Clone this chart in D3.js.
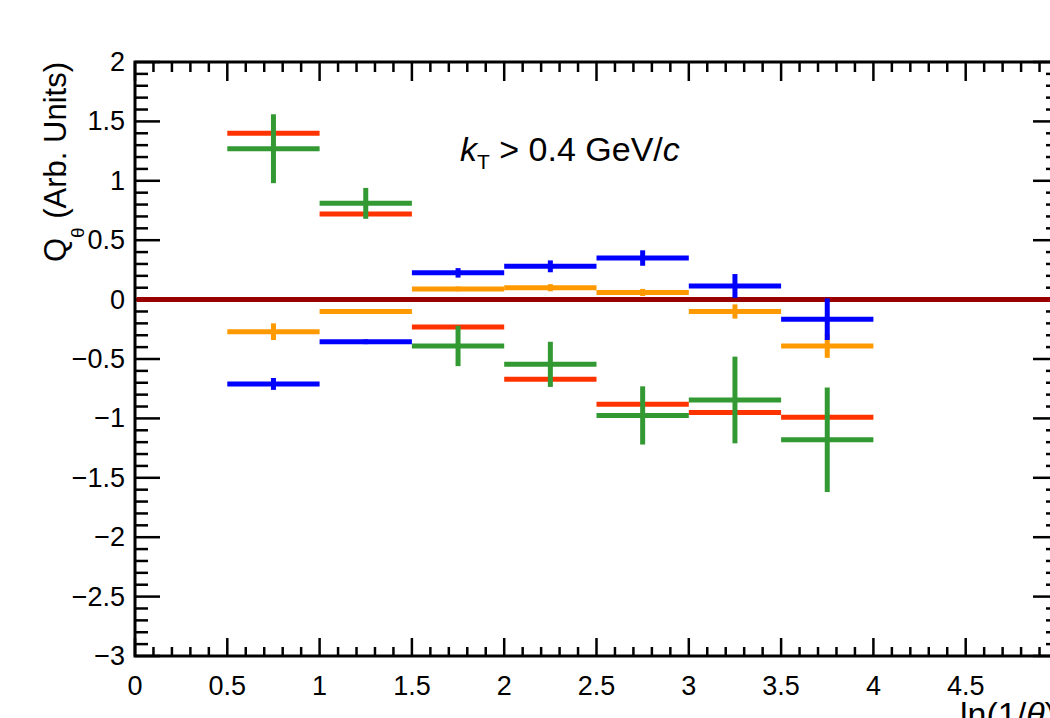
<!DOCTYPE html>
<html>
<head>
<meta charset="utf-8">
<script src="https://cdn.jsdelivr.net/npm/d3@7"></script>
<style>
  html, body { margin: 0; padding: 0; background: #fff; overflow: hidden; }
  text { font-family: "Liberation Sans", Arial, Helvetica, sans-serif; }
</style>
</head>
<body>
<svg id="chart" width="1050" height="718"></svg>
<script>
// ---- data ----
const binLow  = [0.5, 1.0, 1.5, 2.0, 2.5, 3.0, 3.5];
const binHigh = [1.0, 1.5, 2.0, 2.5, 3.0, 3.5, 4.0];

const redVals    = [1.40, 0.72, -0.23, -0.67, -0.88, -0.95, -0.99];
const redErrs    = [0.01, 0.01, 0.01, 0.01, 0.01, 0.01, 0.01];

const greenVals  = [1.27, 0.81, -0.39, -0.545, -0.975, -0.845, -1.18];
const greenErrs  = [0.29, 0.13, 0.17, 0.19, 0.245, 0.365, 0.44];

const orangeVals = [-0.27, -0.10, 0.09, 0.10, 0.06, -0.10, -0.39];
const orangeErrs = [0.07, 0.01, 0.02, 0.03, 0.03, 0.06, 0.10];

const blueVals   = [-0.71, -0.355, 0.225, 0.28, 0.35, 0.115, -0.165];
const blueErrs   = [0.05, 0.02, 0.04, 0.05, 0.065, 0.10, 0.175];

const xTickVals = [0, 0.5, 1, 1.5, 2, 2.5, 3, 3.5, 4, 4.5, 5];
const xTickLabels = ["0", "0.5", "1", "1.5", "2", "2.5", "3", "3.5", "4", "4.5", "5"];
const yTickVals = [2, 1.5, 1, 0.5, 0, -0.5, -1, -1.5, -2, -2.5, -3];
const yTickLabels = ["2", "1.5", "1", "0.5", "0", "\u22120.5", "\u22121", "\u22121.5", "\u22122", "\u22122.5", "\u22123"];

const series = [
  { name: "red",    color: "#ff3300", vals: redVals,    errs: redErrs },
  { name: "green",  color: "#339933", vals: greenVals,  errs: greenErrs },
  { name: "orange", color: "#ff9900", vals: orangeVals, errs: orangeErrs },
  { name: "blue",   color: "#0000ff", vals: blueVals,   errs: blueErrs }
];

// ---- layout ----
const svg = d3.select("#chart");
const L = 135, R = 1058, T = 62, B = 656;
const x = d3.scaleLinear().domain([0, 5]).range([L, R]);
const y = d3.scaleLinear().domain([-3, 2]).range([B, T]);

// ---- axes ----
const minorX = d3.range(0, 5.0001, 0.1).filter(v => Math.abs(v * 2 - Math.round(v * 2)) > 1e-6);
const minorY = d3.range(-3, 2.0001, 0.1).filter(v => Math.abs(v * 2 - Math.round(v * 2)) > 1e-6);

const axG = svg.append("g").attr("stroke", "#000");
axG.append("rect").attr("x", L).attr("y", T).attr("width", R - L).attr("height", B - T)
  .attr("fill", "none").attr("stroke-width", 3);

function tickLines(vals, len, side) {
  vals.forEach(v => {
    if (side === "bottom") axG.append("line").attr("x1", x(v)).attr("x2", x(v)).attr("y1", B).attr("y2", B - len).attr("stroke-width", 2.5);
    if (side === "top") axG.append("line").attr("x1", x(v)).attr("x2", x(v)).attr("y1", T).attr("y2", T + len).attr("stroke-width", 2.5);
    if (side === "left") axG.append("line").attr("x1", L).attr("x2", L + len).attr("y1", y(v)).attr("y2", y(v)).attr("stroke-width", 2.5);
    if (side === "right") axG.append("line").attr("x1", R).attr("x2", R - len).attr("y1", y(v)).attr("y2", y(v)).attr("stroke-width", 2.5);
  });
}
tickLines(xTickVals, 18, "bottom");
tickLines(minorX, 9, "bottom");
tickLines(xTickVals, 19, "top");
tickLines(minorX, 10, "top");
tickLines(yTickVals, 25, "left");
tickLines(minorY, 13, "left");
tickLines(yTickVals, 25, "right");
tickLines(minorY, 12, "right");

// zero line (drawn over the axes, under the data)
svg.append("line")
  .attr("x1", x(0) + 1.5).attr("x2", x(5))
  .attr("y1", y(0)).attr("y2", y(0))
  .attr("stroke", "#990000").attr("stroke-width", 5);

// series
series.forEach(s => {
  const g = svg.append("g");
  binLow.forEach((lo, i) => {
    const hi = binHigh[i];
    const c = (lo + hi) / 2;
    g.append("line")
      .attr("x1", x(lo)).attr("x2", x(hi))
      .attr("y1", y(s.vals[i])).attr("y2", y(s.vals[i]))
      .attr("stroke", s.color).attr("stroke-width", 5);
    g.append("line")
      .attr("x1", x(c)).attr("x2", x(c))
      .attr("y1", y(s.vals[i] + s.errs[i])).attr("y2", y(s.vals[i] - s.errs[i]))
      .attr("stroke", s.color).attr("stroke-width", 5);
  });
});

// tick labels
svg.append("g").selectAll("text").data(xTickVals).join("text")
  .attr("x", d => x(d)).attr("y", 695)
  .attr("text-anchor", "middle").attr("font-size", 27)
  .text((d, i) => xTickLabels[i]);

svg.append("g").selectAll("text").data(yTickVals).join("text")
  .attr("x", 125).attr("y", d => y(d) + 9)
  .attr("text-anchor", "end").attr("font-size", 27)
  .text((d, i) => yTickLabels[i]);

// y axis title
const yt = svg.append("text")
  .attr("transform", "translate(66,62) rotate(-90)")
  .attr("text-anchor", "end").attr("font-size", 31);
yt.append("tspan").text("Q");
yt.append("tspan").attr("font-size", 19).attr("dy", 18).text("\u03b8");
yt.append("tspan").attr("dy", -18).text(" (Arb. Units)");

// x axis title
const xt = svg.append("text").attr("x", 960).attr("y", 726).attr("font-size", 34);
xt.append("tspan").text("ln(1/");
xt.append("tspan").attr("font-style", "italic").text("\u03b8");
xt.append("tspan").text(")");

// annotation
const ann = svg.append("text").attr("x", 460).attr("y", 161).attr("font-size", 34);
ann.append("tspan").attr("font-style", "italic").text("k");
ann.append("tspan").attr("font-size", 21).attr("dy", 8).text("T");
ann.append("tspan").attr("dy", -8).text(" > 0.4 GeV/");
ann.append("tspan").attr("font-style", "italic").text("c");
</script>
</body>
</html>
